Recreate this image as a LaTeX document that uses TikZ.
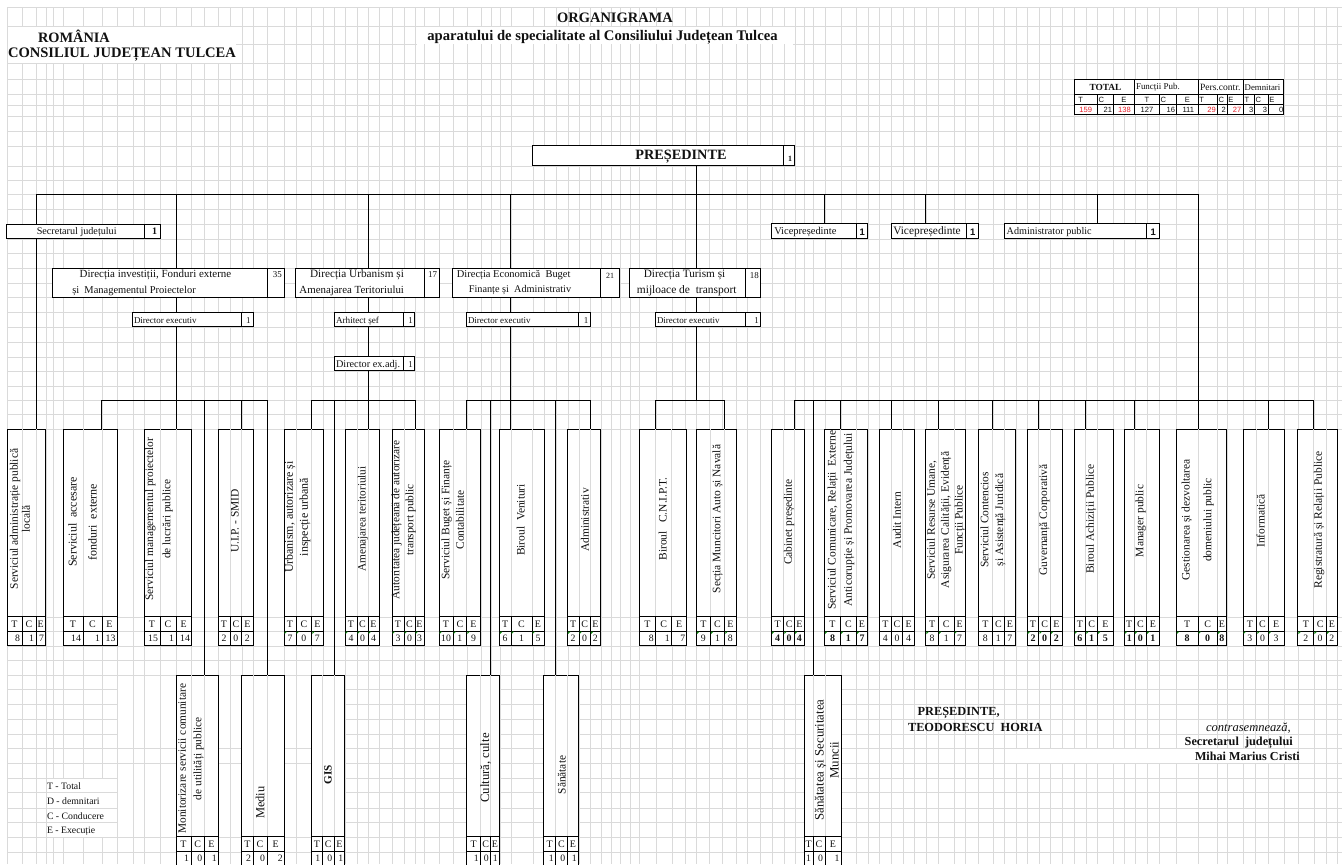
\documentclass[tikz,border=0pt]{standalone}
\usepackage{fontspec}
\setmainfont{Liberation Serif}
\newfontfamily\arialf{Liberation Sans}
\definecolor{gridc}{HTML}{DADADA}
\definecolor{inkc}{HTML}{111111}
\definecolor{redc}{HTML}{E8202A}
\definecolor{flagc}{HTML}{108A10}
\newcommand\FS[2]{\fontsize{#1}{#2}\selectfont}
\tikzset{
  gridline/.style={draw=gridc,line width=0.9pt},
  conn/.style={draw=black,line width=0.95pt},
  boxframe/.style={draw=black,line width=0.95pt,fill=white,inner sep=0pt,outer sep=0pt,rectangle},
  cellrule/.style={draw=black,line width=0.95pt},
  thinrule/.style={draw=gridc,line width=0.9pt},
  txt/.style={inner sep=0pt,outer sep=0pt,text=inkc},
  rottxt/.style={txt,rotate=90,align=center},
  headc/.style={txt,font=\FS{10}{11}},
  numc/.style={txt,font=\FS{9.8}{11}},
  numb/.style={txt,font=\FS{10}{11}\bfseries},
  smallc/.style={txt,font=\FS{10.2}{11}},
  medc/.style={txt,font=\FS{11}{12}},
  countb/.style={txt,font=\arialf\FS{9.5}{10}\bfseries},
  tabhead/.style={txt,font=\FS{9}{10}},
  tabsans/.style={txt,font=\arialf\FS{7.6}{8}},
  thick frame/.style={draw=black,line width=1.6pt},
}
% a counted service box: name, x0, x1, x2, x3, T, C, E, mode
% mode: 0 centred, 1 right aligned, 2 centred+flag, 3 bold centred+flag
\newcommand\svc[9]{%
  \pgfmathsetmacro\bw{#5-#2}\pgfmathsetmacro\bh{\yd-\ya}%
  \pgfmathsetmacro\bx{(#5+#2)/2}\pgfmathsetmacro\by{(\yd+\ya)/2}%
  \node[boxframe,minimum width=\bw bp,minimum height=\bh bp] (#1) at (\bx,\by) {};
  \draw[thinrule] (#3,\ya) -- (#3,\yb) (#4,\ya) -- (#4,\yb);
  \draw[cellrule] (#2,\yb) -- (#5,\yb) (#2,\yc) -- (#5,\yc) (#3,\yb) -- (#3,\yd) (#4,\yb) -- (#4,\yd);
  \pgfmathsetmacro\yh{(\yb+\yc)/2}\pgfmathsetmacro\yn{(\yc+min(\yd,\yc+15))/2}%
  \node[headc] (#1-hT) at ({(#2+#3)/2},\yh) {T};
  \node[headc] (#1-hC) at ({(#3+#4)/2},\yh) {C};
  \node[headc] (#1-hE) at ({(#4+#5)/2},\yh) {E};
  \ifnum#9=1
    \node[numc,anchor=east] (#1-nT) at ({#3-2},\yn) {#6};
    \node[numc,anchor=east] (#1-nC) at ({#4-2},\yn) {#7};
    \node[numc,anchor=east] (#1-nE) at ({#5-1.5},\yn) {#8};
  \else
    \ifnum#9=3\def\nst{numb}\else\def\nst{numc}\fi
    \node[\nst] (#1-nT) at ({(#2+#3)/2},\yn) {#6};
    \node[\nst] (#1-nC) at ({(#3+#4)/2},\yn) {#7};
    \node[\nst] (#1-nE) at ({(#4+#5)/2},\yn) {#8};
  \fi
  \ifnum#9>1
    \fill[flagc] (#2+0.6,\yc+0.5) -- ++(2.6,0) -- ++(-2.6,2.6) -- cycle;
    \fill[flagc] (#3+0.6,\yc+0.5) -- ++(2.6,0) -- ++(-2.6,2.6) -- cycle;
    \fill[flagc] (#4+0.6,\yc+0.5) -- ++(2.6,0) -- ++(-2.6,2.6) -- cycle;
  \fi
}
% a headed box with a count cell: name, x0, xm, x1, y0, y1
\newcommand\headbox[6]{%
  \pgfmathsetmacro\bw{#3-#2}\pgfmathsetmacro\bh{#6-#5}%
  \pgfmathsetmacro\cw{#4-#3}%
  \node[boxframe,minimum width=\bw bp,minimum height=\bh bp] (#1) at ({(#2+#3)/2},{(#5+#6)/2}) {};
  \node[boxframe,minimum width=\cw bp,minimum height=\bh bp] (#1-n) at ({(#3+#4)/2},{(#5+#6)/2}) {};
}
\newcommand\rlab[6]{\node[rottxt,font=\FS{#4}{#5}] (#1) at (#2,#3) {#6};}
\begin{document}
\begin{tikzpicture}[x=1bp,y=-1bp]
\useasboundingbox (0,0) rectangle (1342,864);
\clip (0,0) rectangle (1342,864);
\fill[white] (0,0) rectangle (1342,864);
% grid: verticals
\foreach \gx in {7,22,36,46,53,63,83,102,117,133,144,160,176,191,204,218,230,242,253,267,284,296,311,323,334,345,357,368,379,392,404,415,424,439,453,467,481,491,500,511,533,544,556,568,579,590,601,611,620,630,639,656,672,685,696,709,722,736,747,760,772,784,795,804,813,825,841,856,868,879,891,903,914,926,938,954,965,978,993,1004,1016,1027,1039,1050,1062,1074,1086,1097,1113,1124,1135,1147,1159,1176,1198,1217,1227,1243,1255,1268,1284,1298,1314,1326,1337}
  {\draw[gridline] (\gx,7.5) -- (\gx,864);}
\fill[white] (46.8,778.5) rectangle (116.5,836.5);
\fill[white] (1004.6,748.5) rectangle (1297.5,762.5);
\fill[white] (8,27) rectangle (236,62.5);
\fill[white] (417,27) rectangle (793,43.5);
% grid: horizontals
\foreach \gy in {7.5,26,63,79,94,105,116,131,146,166,180,194,209,224,239,253,268,283,297,312,327,342,357,371,386,400,414,429,617,631,646,660,675,748,763,837,852}
  {\draw[gridline] (7,\gy) -- (1342,\gy);}
\draw[gridline] (236,44) -- (417,44) (793,44) -- (1342,44);
\foreach \gy in {689,704,719,734,778,792,808,822}
  {\draw[gridline] (7,\gy) -- (117,\gy) (345,\gy) -- (1342,\gy);}

% titles
\node[txt,font=\FS{14.4}{15}\bfseries] (romania) at (74,36) {ROMÂNIA};
\node[txt,font=\FS{14.6}{15}\bfseries] (consiliul) at (122,55) {CONSILIUL JUDEȚEAN TULCEA};
\node[txt,font=\FS{14.5}{15}\bfseries] (organigrama) at (615,18) {ORGANIGRAMA};
\node[txt,font=\FS{14.7}{15}\bfseries] (aparat) at (602.5,37) {aparatului de specialitate al Consiliului Județean Tulcea};

% total table
\node[thick frame,inner sep=0pt,outer sep=0pt,fill=white,minimum width=209bp,minimum height=35.4bp] (tot) at (1178.8,97) {};
\draw[cellrule] (tot.west |- 0,94.3) -- (tot.east |- 0,94.3);
\draw[line width=0.7pt] (tot.west |- 0,104.3) -- (tot.east |- 0,104.3);
\foreach \cx in {1134.7,1198.7,1243} {\draw[cellrule] (\cx,79.3) -- (\cx,114.7);}
\foreach \cx in {1097.3,1113.3,1159.3,1176.7,1217.7,1227.3,1254.7,1268.7} {\draw[cellrule] (\cx,94.3) -- (\cx,114.7);}
\node[txt,font=\FS{9.4}{10}\bfseries] (tot-a) at (1105.5,87.7) {TOTAL};
\node[tabhead,anchor=west] (tot-b) at (1136,87.7) {Funcții Pub.};
\node[tabhead,anchor=west,font=\FS{9.6}{10}] (tot-c) at (1200,87.7) {Pers.contr.};
\node[tabhead,anchor=west,font=\FS{8.8}{10}] (tot-d) at (1244.7,87.7) {Demnitari};
\foreach \i/\cx/\tx in {1/1080.7/T,2/1101.3/C,3/1124/E,4/1147/T,5/1163.3/C,6/1187.3/E,7/1201.7/T,8/1221.3/C,9/1231/E,10/1247/T,11/1258.3/C,12/1272/E}
  {\node[tabsans] (tl\i) at (\cx,99.6) {\tx};}
\foreach \i/\cx/\tx/\cl in {1/1092/159/redc,2/1112/21/inkc,3/1130.7/138/redc,4/1153.3/127/inkc,5/1175/16/inkc,6/1194/111/inkc,7/1215.7/29/redc,8/1225.7/2/inkc,9/1241.3/27/redc,10/1253.3/3/inkc,11/1267/3/inkc,12/1283.3/0/inkc}
  {\node[tabsans,anchor=east,text=\cl] (tn\i) at (\cx,109.8) {\tx};}

% top level boxes
\headbox{pres}{532.3}{783.3}{794.7}{145}{165}
\node[txt,font=\FS{14.3}{15}\bfseries] (pres-l) at (681,157) {PREȘEDINTE};
\node[txt,font=\FS{8}{9}\bfseries] (pres-c) at (790,159) {1};

\headbox{sec}{6.9}{144.7}{160}{224}{238.7}
\node[smallc] (sec-l) at (76.7,231.7) {Secretarul județului};
\node[txt,font=\FS{10}{11}\bfseries] (sec-c) at (154.7,231.7) {1};
\headbox{vpa}{771.7}{856.7}{867.7}{223.7}{238.7}
\node[smallc,anchor=west,font=\FS{10.5}{11}] (vpa-l) at (774.3,232) {Vicepreședinte};
\node[countb] (vpa-c) at (862.3,232) {1};
\headbox{vpb}{891.3}{966}{978.3}{223.7}{238.7}
\node[txt,font=\FS{11.4}{12},anchor=west] (vpb-l) at (893.3,231.5) {Vicepreședinte};
\node[countb] (vpb-c) at (972.7,232) {1};
\headbox{adm}{1004.7}{1146.7}{1159}{223.7}{238.7}
\node[smallc,anchor=west] (adm-l) at (1006.7,232) {Administrator public};
\node[countb] (adm-c) at (1153.3,232) {1};

% directorates
\headbox{dinv}{52.7}{267.3}{284.3}{268.3}{297.3}
\node[medc] (dinv-a) at (155.5,275) {Direcția investiții, Fonduri externe};
\node[medc,font=\FS{10.5}{11}] (dinv-b) at (134,290.7) {și\ \ Managementul Proiectelor};
\node[txt,font=\FS{9}{10}] (dinv-c) at (277.3,275) {35};
\headbox{durb}{295.7}{424}{439.3}{268.3}{297.3}
\node[medc,font=\FS{11.3}{12}] (durb-a) at (357,275) {Direcția Urbanism și};
\node[medc,font=\FS{10.9}{12}] (durb-b) at (351.7,290.7) {Amenajarea Teritoriului};
\node[txt,font=\FS{9}{10}] (durb-c) at (432.7,275) {17};
\headbox{deco}{452.7}{600.3}{619.7}{268.3}{297.3}
\node[medc,font=\FS{10.5}{12}] (deco-a) at (513.7,275.3) {Direcția Economică\ \ Buget};
\node[medc,font=\FS{10.3}{11}] (deco-b) at (520,290.3) {Finanțe și\ \ Administrativ};
\node[txt,font=\FS{8}{10}] (deco-c) at (610,276) {21};
\headbox{dtur}{629.7}{745.7}{760.3}{268.3}{297.3}
\node[medc,font=\FS{11.3}{12}] (dtur-a) at (684.5,275.3) {Direcția Turism și};
\node[medc,font=\FS{11.5}{12}] (dtur-b) at (686.7,290.3) {mijloace de\ \ transport};
\node[txt,font=\FS{9}{10}] (dtur-c) at (754.3,275.3) {18};

% executive directors
\headbox{xa}{132.3}{241.7}{253.3}{312.3}{326.7}
\node[smallc,anchor=west,font=\FS{9}{10}] (xa-l) at (134,321) {Director executiv};
\node[txt,font=\FS{9}{10}] (xa-c) at (248.3,320.5) {1};
\headbox{xb}{334.7}{403.3}{414.7}{312.3}{326.7}
\node[smallc,anchor=west,font=\FS{9.2}{10}] (xb-l) at (336,321) {Arhitect șef};
\node[txt,font=\FS{9}{10}] (xb-c) at (410.7,320.5) {1};
\headbox{xbb}{334.7}{403.3}{414.7}{356.3}{370.7}
\node[smallc,anchor=west,font=\FS{10.3}{11}] (xbb-l) at (336,365) {Director ex.adj.};
\node[txt,font=\FS{9}{10}] (xbb-c) at (410.7,364.5) {1};
\headbox{xc}{466.7}{578.7}{590.3}{312.3}{326.7}
\node[smallc,anchor=west,font=\FS{9}{10}] (xc-l) at (468,321) {Director executiv};
\node[txt,font=\FS{9}{10}] (xc-c) at (586,320.5) {1};
\headbox{xd}{655.7}{745.7}{760.3}{312.3}{326.7}
\node[smallc,anchor=west,font=\FS{9}{10}] (xd-l) at (657,321) {Director executiv};
\node[txt,font=\FS{9}{10}] (xd-c) at (756.7,320.5) {1};

% upper service row
\def\ya{429.3}\def\yb{616.7}\def\yc{631}\def\yd{645.7}
\svc{sa}{7}{22}{36}{45.5}{8}{1}{7}{1}
\svc{sb}{63}{83}{102}{117}{14}{1}{13}{1}
\svc{sc}{144}{160}{176}{191.5}{15}{1}{14}{1}
\svc{sd}{218}{230}{241.7}{253}{2}{0}{2}{0}
\svc{se}{284}{296}{311.7}{323}{7}{0}{7}{2}
\svc{sf}{345}{357}{368}{379}{4}{0}{4}{2}
\svc{sg}{392}{404}{415}{424}{3}{0}{3}{2}
\svc{sh}{439}{453}{466.7}{480.3}{10}{1}{9}{2}
\svc{si}{499.3}{511}{532}{544}{6}{1}{5}{2}
\svc{sj}{567.3}{579}{590.3}{600.3}{2}{0}{2}{2}
\svc{sk}{639.3}{655.7}{671.7}{686.7}{8}{1}{7}{1}
\svc{sl}{696.3}{710.3}{724.7}{736}{9}{1}{8}{2}
\svc{sm}{771.5}{783.7}{794.5}{804.1}{4}{0}{4}{3}
\svc{sn}{824.5}{840.5}{856.4}{867.6}{8}{1}{7}{3}
\svc{so}{879.4}{891.3}{902.8}{914.3}{4}{0}{4}{0}
\svc{sp}{925.8}{938.4}{954}{965.1}{8}{1}{7}{2}
\svc{sq}{978.1}{992.6}{1004.1}{1015.6}{8}{1}{7}{0}
\svc{sr}{1027.1}{1038.9}{1050.4}{1062.3}{2}{0}{2}{3}
\svc{ss}{1074.2}{1085.7}{1097.5}{1113.1}{6}{1}{5}{3}
\svc{st}{1124.2}{1134.3}{1146.5}{1159.1}{1}{0}{1}{3}
\svc{su}{1176.2}{1198}{1217.3}{1226.6}{8}{0}{8}{3}
\svc{sv}{1243}{1256.7}{1268.2}{1284.1}{3}{0}{3}{2}
\svc{sw}{1297.8}{1313.8}{1326.4}{1337.2}{2}{0}{2}{2}
% lower service row
\def\ya{675}\def\yb{836.7}\def\yc{851.4}\def\yd{866}
\svc{ta}{176}{191}{204.3}{218.3}{1}{0}{1}{1}
\svc{tb}{241.7}{253}{267}{284.3}{2}{0}{2}{1}
\svc{tc}{311.7}{322.3}{334.3}{344.7}{1}{0}{1}{1}
\svc{td}{466.7}{480.7}{490.7}{499.3}{1}{0}{1}{1}
\svc{te}{543.7}{555.7}{567.3}{578.3}{1}{0}{1}{1}
\svc{tf}{804.5}{813}{825}{841}{1}{0}{1}{1}

% rotated labels
\rlab{sa-l}{20}{519}{11.5}{12}{Serviciul administrație publică\\locală}
\rlab{sb-l}{82.5}{522}{12}{20}{Serviciul\ \ accesare\\fonduri\ \ externe}
\rlab{sc-l}{159}{519}{11.4}{17.5}{Serviciul managementul proiectelor\\de lucrări publice}
\rlab{sd-l}{235}{521}{11.5}{12}{U.I.P. - SMID}
\rlab{se-l}{297.5}{517}{12}{15}{Urbanism, autorizare și\\inspecție urbană}
\rlab{sf-l}{363}{519}{11.3}{12}{Amenajarea teritoriului}
\rlab{sg-l}{403.7}{520}{11.4}{14}{Autoritatea județeană de autorizare\\transport public}
\rlab{sh-l}{452.7}{520}{11.5}{14.5}{Serviciul Buget și Finanțe\\Contabilitate}
\rlab{si-l}{520.7}{520}{11.5}{12}{Biroul\ \ Venituri}
\rlab{sj-l}{585}{520}{11.5}{12}{Administrativ}
\rlab{sk-l}{662.7}{519}{11.5}{12}{Biroul\ \ \ C.N.I.P.T.}
\rlab{sl-l}{717.7}{519}{11.5}{12}{Secția Muncitori Auto și Navală}
\rlab{sm-l}{789}{522}{11.5}{12}{Cabinet președinte}
\rlab{sn-l}{841}{520}{11.6}{16.3}{Serviciul Comunicare, Relații\ \ Externe\\Anticorupție și Promovarea Județului}
\rlab{so-l}{897}{520}{11.5}{12}{Audit Intern}
\rlab{sp-l}{946}{520}{11.5}{14}{Serviciul Resurse Umane,\\Asigurarea Calității, Evidență\\Funcții Publice}
\rlab{sq-l}{993}{520}{11.5}{15}{Serviciul Contencios\\și Asistență Juridică}
\rlab{sr-l}{1044.5}{520}{11.5}{12}{Guvernanță Corporativă}
\rlab{ss-l}{1091}{519}{11.5}{12}{Biroul Achiziții Publice}
\rlab{st-l}{1140.6}{521}{11.5}{12}{Manager public}
\rlab{su-l}{1197.7}{520}{11.5}{22}{Gestionarea și dezvoltarea\\domeniului public}
\rlab{sv-l}{1260.7}{521}{11.5}{12}{Informatică}
\rlab{sw-l}{1319}{520}{11.5}{12}{Registratură și Relații Publice}
\rlab{ta-l}{191}{758.7}{11.4}{15.5}{Monitorizare servicii comunitare\\de utilități publice}
\rlab{tb-l}{260}{802.7}{12.5}{12}{Mediu}
\rlab{tc-l}{328}{775}{11.2}{12}{\bfseries GIS}
\rlab{td-l}{485.7}{768}{12.8}{12}{Cultură, culte}
\rlab{te-l}{561.7}{775}{11.4}{12}{Sănătate}
\rlab{tf-l}{826.8}{760}{12.9}{15}{Sănătatea și Securitatea\\Muncii}

% connectors
\coordinate (bL) at (36,194.3);
\coordinate (bA) at (176,194.3);
\coordinate (bB) at (368,194.3);
\coordinate (bC) at (510.7,194.3);
\coordinate (bD) at (696.3,194.3);
\coordinate (bE) at (824.7,194.3);
\coordinate (bF) at (925.7,194.3);
\coordinate (bG) at (1097.3,194.3);
\coordinate (bR) at (1198,194.3);
\draw[conn] (bD |- pres.south) -- (bD);
\draw[conn] (bL) -- (bR);
\draw[conn] (bL) -- (bL |- sec.north);
\draw[conn] (bE) -- (bE |- vpa.north);
\draw[conn] (bF) -- (bF |- vpb.north);
\draw[conn] (bG) -- (bG |- adm.north);
\draw[conn] (bL |- sec.south) -- (bL |- sa.north);
% directorate stems
\draw[conn] (bA) -- (bA |- dinv.north) (bA |- dinv.south) -- (bA |- xa.north);
\draw[conn] (bB) -- (bB |- durb.north) (bB |- durb.south) -- (bB |- xb.north) (bB |- xb.south) -- (bB |- xbb.north);
\draw[conn] (bC) -- (bC |- deco.north) (bC |- deco.south) -- (bC |- xc.north);
\draw[conn] (bD) -- (bD |- dtur.north) (bD |- dtur.south) -- (bD |- xd.north);
% sub-buses
\coordinate (cAl) at (101,400);\coordinate (cAr) at (267,400);
\coordinate (cA2) at (204.3,400);\coordinate (cA3) at (241.7,400);
\draw[conn] (bA |- xa.south) -- (bA |- cAl);
\draw[conn] (cAl) -- (cAr);
\draw[conn] (cAl) -- (cAl |- sb.north);
\draw[conn] (bA |- cAl) -- (bA |- sc.north);
\draw[conn] (cA3) -- (cA3 |- sd.north);
\draw[conn] (cA2) -- (cA2 |- ta.north);
\draw[conn] (cAr) -- (cAr |- tb.north);
\coordinate (cBl) at (311.7,400);\coordinate (cBr) at (415,400);\coordinate (cB2) at (334.3,400);
\draw[conn] (bB |- xbb.south) -- (bB |- cBl);
\draw[conn] (cBl) -- (cBr);
\draw[conn] (cBl) -- (cBl |- se.north);
\draw[conn] (bB |- cBl) -- (bB |- sf.north);
\draw[conn] (cBr) -- (cBr |- sg.north);
\draw[conn] (cB2) -- (cB2 |- tc.north);
\coordinate (cCl) at (466.7,400);\coordinate (cCr) at (590.3,400);
\coordinate (cC2) at (490.7,400);\coordinate (cC3) at (555.7,400);
\draw[conn] (bC |- xc.south) -- (bC |- cCl);
\draw[conn] (cCl) -- (cCr);
\draw[conn] (cCl) -- (cCl |- sh.north);
\draw[conn] (bC |- cCl) -- (bC |- si.north);
\draw[conn] (cCr) -- (cCr |- sj.north);
\draw[conn] (cC2) -- (cC2 |- td.north);
\draw[conn] (cC3) -- (cC3 |- te.north);
\coordinate (cDl) at (655.7,400);\coordinate (cDr) at (724.7,400);
\draw[conn] (bD |- xd.south) -- (bD |- cDl);
\draw[conn] (cDl) -- (cDr);
\draw[conn] (cDl) -- (cDl |- sk.north);
\draw[conn] (cDr) -- (cDr |- sl.north);
\coordinate (cEl) at (794.5,400);\coordinate (cEr) at (1313.8,400);\coordinate (cEm) at (1198,400);
\draw[conn] (bR) -- (cEm);
\draw[conn] (cEl) -- (cEr);
\draw[conn] (cEl) -- (cEl |- sm.north);
\coordinate (cE1) at (813,400);
\draw[conn] (cE1) -- (cE1 |- tf.north);
\foreach \sx/\sn in {840.5/sn,891.3/so,938.4/sp,992.6/sq,1038.9/sr,1085.7/ss,1134.3/st,1198/su,1268.2/sv}
  {\coordinate (tap) at (\sx,400); \draw[conn] (tap) -- (tap |- \sn.north);}
\draw[conn] (cEr) -- (cEr |- sw.north);

% legend
\foreach \i/\gy/\tx in {1/786/T - Total,2/801/D - demnitari,3/816/C - Conducere,4/831/E - Execuție}
  {\node[txt,anchor=west,font=\FS{9.8}{11}] (leg\i) at (47,\gy) {\tx};}

% signatures
\node[txt,anchor=west,font=\FS{12.4}{13}\bfseries] (sigA) at (917.6,713) {PREȘEDINTE,};
\node[txt,anchor=west,font=\FS{12.4}{13}\bfseries] (sigB) at (908,727.7) {TEODORESCU\ \ HORIA};
\node[txt,anchor=west,font=\FS{12.6}{13}\itshape] (sigC) at (1206,728) {contrasemnează,};
\node[txt,anchor=west,font=\FS{12.3}{13}\bfseries] (sigD) at (1184.7,742.7) {Secretarul\ \ județului};
\node[txt,anchor=west,font=\FS{12.2}{13}\bfseries] (sigE) at (1195,756) {Mihai Marius Cristi};
\end{tikzpicture}
\end{document}
